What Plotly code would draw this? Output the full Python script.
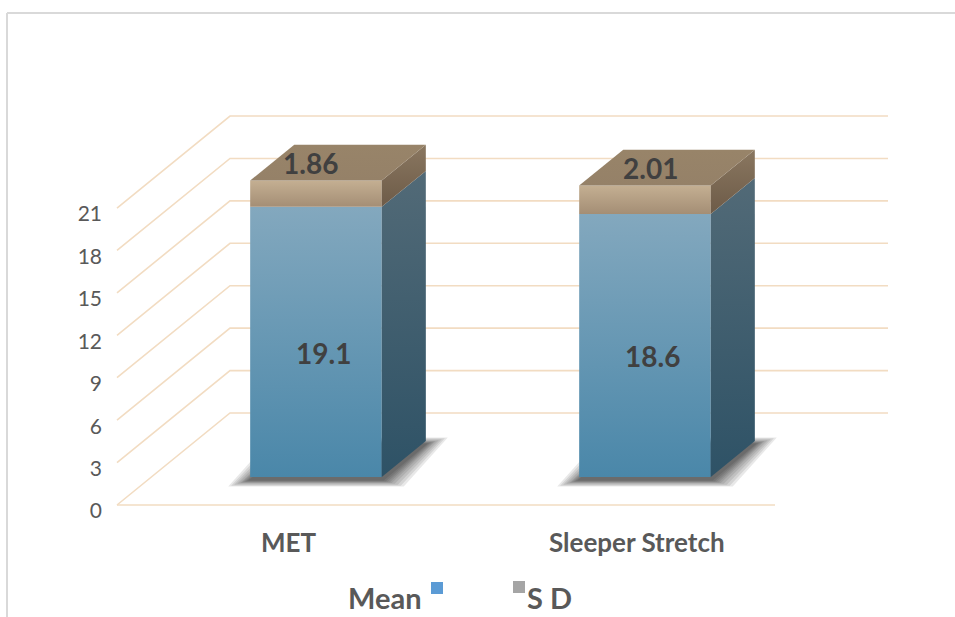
import plotly.graph_objects as go

# ---------------- data ----------------
categories = ["MET", "Sleeper Stretch"]
mean_vals = [19.1, 18.6]
sd_vals = [1.86, 2.01]
y_ticks = [0, 3, 6, 9, 12, 15, 18, 21]
legend_names = ["Mean", "S D"]

# ---------------- geometry / style ----------------
W, H = 955, 617
PX_PER_VAL = 14.14
PX_PER_CAT = 329.0
FLOOR_LEFT_PX = 117.0
FLOOR_FRONT_PX = 505.0
DEPTH_DX_PX, DEPTH_DY_PX = 113.0, 92.0

DX = DEPTH_DX_PX / PX_PER_CAT
DY = DEPTH_DY_PX / PX_PER_VAL
x_min = -0.5 - FLOOR_LEFT_PX / PX_PER_CAT
x_max = x_min + W / PX_PER_CAT
y_min = -(H - FLOOR_FRONT_PX) / PX_PER_VAL
y_max = FLOOR_FRONT_PX / PX_PER_VAL

BAR_W = 0.4
D_FRONT, D_BACK = 0.305, 0.695
GRID_COLOR = "#f2dcc2"
FONT = "Lato, 'Open Sans', sans-serif"


def P(x, d, v):
    return (x + d * DX, v + d * DY)


def poly(pts, scale=None, color=None, opacity=1.0):
    xs = [p[0] for p in pts] + [pts[0][0]]
    ys = [p[1] for p in pts] + [pts[0][1]]
    kw = dict(x=xs, y=ys, mode="lines", fill="toself", line=dict(width=0),
              hoverinfo="skip", showlegend=False, opacity=opacity)
    if scale is not None:
        kw["fillgradient"] = dict(type="vertical", colorscale=scale)
    else:
        kw["fillcolor"] = color
    return go.Scatter(**kw)


fig = go.Figure()

# ---- walls / gridlines ----
gx, gy = [], []
for v in y_ticks:
    a = P(-0.5, 0, v)
    b = P(-0.5, 1, v)
    c = P(1.5, 1, v)
    gx += [a[0], b[0], c[0], None]
    gy += [a[1], b[1], c[1], None]
f0 = P(-0.5, 0, 0)
f1 = P(1.5, 0, 0)
gx += [f0[0], f1[0], None]
gy += [f0[1], f1[1], None]
fig.add_trace(go.Scatter(x=gx, y=gy, mode="lines", line=dict(color=GRID_COLOR, width=1.6),
                         hoverinfo="skip", showlegend=False))

# ---- bars ----
blue_front = [[0, "#4a87a9"], [1, "#83a8be"]]
blue_side = [[0, "#2e5266"], [1, "#526a77"]]
tan_front = [[0, "#a48e75"], [1, "#c4af92"]]
tan_side = [[0, "#6d5b48"], [1, "#8a7760"]]
tan_top = [[0, "#958168"], [1, "#988469"]]

SHADOW_STEPS = [22, 19, 16, 13, 10, 8, 6, 4, 2]
for i, (m, s) in enumerate(zip(mean_vals, sd_vals)):
    x0, x1 = i - BAR_W / 2, i + BAR_W / 2
    tot = m + s
    # soft blurred shadow (layered)
    off = 3.0 / PX_PER_VAL
    for e in SHADOW_STEPS:
        ex = e / PX_PER_CAT
        ey = (0.3 * e) / PX_PER_VAL
        pts = [P(x0 - ex, D_FRONT, -off - ey), P(x1 + ex, D_FRONT, -off - ey),
               P(x1 + ex, D_BACK, -off + ey), P(x0 - ex, D_BACK, -off + ey)]
        fig.add_trace(poly(pts, color="rgba(0,0,0,1)", opacity=0.09))
    # blue front
    fig.add_trace(poly([P(x0, D_FRONT, 0), P(x1, D_FRONT, 0), P(x1, D_FRONT, m), P(x0, D_FRONT, m)], blue_front))
    # blue side
    fig.add_trace(poly([P(x1, D_FRONT, 0), P(x1, D_BACK, 0), P(x1, D_BACK, m), P(x1, D_FRONT, m)], blue_side))
    # tan front
    fig.add_trace(poly([P(x0, D_FRONT, m), P(x1, D_FRONT, m), P(x1, D_FRONT, tot), P(x0, D_FRONT, tot)], tan_front))
    # tan side
    fig.add_trace(poly([P(x1, D_FRONT, m), P(x1, D_BACK, m), P(x1, D_BACK, tot), P(x1, D_FRONT, tot)], tan_side))
    # top
    fig.add_trace(poly([P(x0, D_FRONT, tot), P(x1, D_FRONT, tot), P(x1, D_BACK, tot), P(x0, D_BACK, tot)], tan_top))

# invisible trace to host the labelled value axis
fig.add_trace(go.Scatter(x=[None], y=[None], yaxis="y2", showlegend=False, hoverinfo="skip"))

annotations = []
SD_XSHIFT = [-5, 6]
for i, (m, s) in enumerate(zip(mean_vals, sd_vals)):
    fx, fy = P(i, D_FRONT, m / 2)
    annotations.append(dict(x=fx, y=fy, xref="x", yref="y", text=f"{m:g}", showarrow=False,
                            xshift=8, yshift=-11,
                            font=dict(family=FONT, size=28, color="#404040", weight="bold")))
    _, ty = P(i, 0.5, m + s)
    fx2, _ = P(i, D_FRONT, 0)
    annotations.append(dict(x=fx2, y=ty, xref="x", yref="y", text=f"{s:.2f}", showarrow=False,
                            xshift=SD_XSHIFT[i],
                            font=dict(family=FONT, size=28, color="#404040", weight="bold")))
# category labels
CAT_XSHIFT = [7, 26]
for i, c in enumerate(categories):
    annotations.append(dict(x=i, y=0, xref="x", yref="y", text=c, showarrow=False,
                            xshift=CAT_XSHIFT[i], yshift=-37,
                            font=dict(family=FONT, size=26, color="#595959", weight="bold")))
# legend
annotations.append(dict(x=384.5 / W, y=1 - 597 / H, xref="paper", yref="paper", text=legend_names[0],
                        showarrow=False, xanchor="center", yanchor="middle",
                        font=dict(family=FONT, size=29, color="#595959", weight="bold")))
annotations.append(dict(x=549 / W, y=1 - 597 / H, xref="paper", yref="paper", text=legend_names[1],
                        showarrow=False, xanchor="center", yanchor="middle",
                        font=dict(family=FONT, size=29, color="#595959", weight="bold")))

shapes = [
    dict(type="rect", xref="paper", yref="paper", x0=431 / W, x1=443 / W, y0=1 - 594 / H, y1=1 - 582 / H,
         fillcolor="#5b9bd5", line=dict(width=0)),
    dict(type="rect", xref="paper", yref="paper", x0=513 / W, x1=525 / W, y0=1 - 593 / H, y1=1 - 581 / H,
         fillcolor="#a5a5a5", line=dict(width=0)),
    # chart border
    dict(type="line", xref="paper", yref="paper", x0=7 / W, x1=7 / W, y0=0, y1=1 - 13 / H,
         line=dict(color="#d9d9d9", width=2)),
    dict(type="line", xref="paper", yref="paper", x0=7 / W, x1=1, y0=1 - 13 / H, y1=1 - 13 / H,
         line=dict(color="#d9d9d9", width=2)),
]

fig.update_layout(
    width=W, height=H, margin=dict(l=0, r=0, t=0, b=0),
    paper_bgcolor="white", plot_bgcolor="white", showlegend=False,
    xaxis=dict(range=[x_min, x_max], visible=False, fixedrange=True),
    yaxis=dict(range=[y_min, y_max], visible=False, fixedrange=True),
    yaxis2=dict(range=[y_min, y_max], overlaying="y", anchor="free", position=102 / W,
                side="left", tickvals=y_ticks, ticktext=[str(t) for t in y_ticks],
                showgrid=False, zeroline=False, showline=False, ticks="",
                ticklabelshift=6,
                tickfont=dict(family=FONT, size=21, color="#595959"), fixedrange=True),
    annotations=annotations, shapes=shapes,
)

fig.write_html("out.html")
